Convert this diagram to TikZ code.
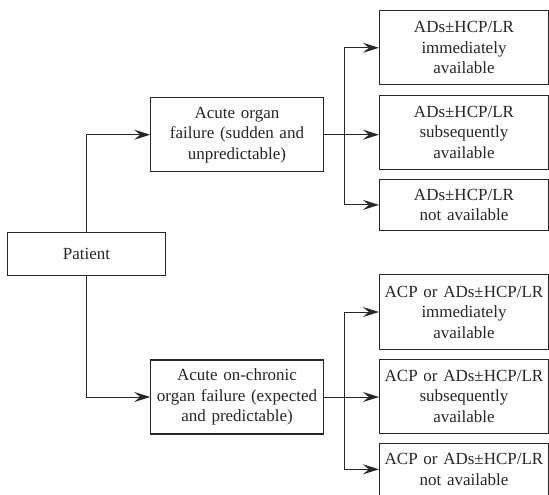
\documentclass[tikz,border=0pt]{standalone}
\usepackage{fontspec}
\setmainfont{Liberation Serif}
\usetikzlibrary{arrows.meta}
\begin{document}
\begin{tikzpicture}[x=1pt,y=-1pt,
 box/.style={draw=black!85, line width=1.1pt, align=center, inner sep=0pt, font=\fontsize{17}{20.5}\selectfont, text=black!85},
 rbox/.style={box, minimum width=169pt, text width=165pt},
 mbox/.style={box, minimum width=172.5pt, minimum height=74pt, text width=170pt},
 conn/.style={draw=black!85, line width=1pt},
 arr/.style={conn, -{Stealth[length=16pt,width=10pt,inset=6pt]}},
]
\useasboundingbox (0,0) rectangle (549,495);
\node[box, minimum width=158pt, minimum height=43pt] (P) at (86.5,254.3) {Patient};
\node[mbox] (A) at (237,134.7) {Acute organ\\failure (sudden and\\unpredictable)};
\node[mbox] (B) at (237,397) {Acute on-chronic\\organ failure (expected\\and predictable)};
\node[rbox, minimum height=74.3pt] (R1) at (464,47.8) {ADs±HCP/LR\\immediately\\available};
\node[rbox, minimum height=74.3pt] (R2) at (464,132.2) {ADs±HCP/LR\\subsequently\\available};
\node[rbox, minimum height=51.7pt] (R3) at (464,204.9) {ADs±HCP/LR\\not available};
\node[rbox, minimum height=74.3pt] (R4) at (464,312) {ACP or ADs±HCP/LR\\immediately\\available};
\node[rbox, minimum height=74pt] (R5) at (464,396.3) {ACP or ADs±HCP/LR\\subsequently\\available};
\node[rbox, minimum height=52pt] (R6) at (464,469.3) {ACP or ADs±HCP/LR\\not available};
\draw[arr] (P.north) |- (A.west);
\draw[arr] (P.south) |- (B.west);
\coordinate (ja) at (344,134.7);
\coordinate (jb) at (344,397);
\draw[arr] (A.east) -- (A.east -| R2.west);
\draw[arr] (ja) |- (R1.west);
\draw[arr] (ja) |- (R3.west);
\draw[arr] (B.east) -- (B.east -| R5.west);
\draw[arr] (jb) |- (R4.west);
\draw[arr] (jb) |- (R6.west);
\end{tikzpicture}
\end{document}
